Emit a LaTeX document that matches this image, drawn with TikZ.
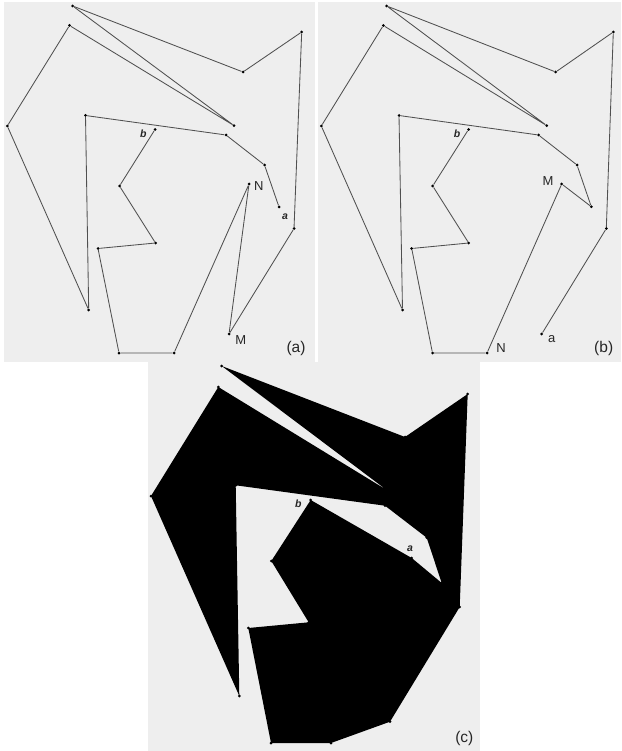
\documentclass[tikz,border=0pt]{standalone}
\usepackage{fontspec}
\setmainfont{Liberation Sans}
\definecolor{panelbg}{HTML}{EEEEEE}
\definecolor{edgecol}{HTML}{505050}
\tikzset{
  vtx/.style={circle, fill=black, inner sep=0pt, minimum size=3pt},
  edge/.style={draw=edgecol, line width=0.85pt},
  panel/.style={fill=panelbg},
  ptlabel/.style={inner sep=0pt, font=\fontsize{13}{15}\selectfont, text=black!85},
  endlabel/.style={inner sep=0pt, font=\fontsize{10.5}{12}\selectfont\bfseries\itshape, text=black!85},
  caption/.style={inner sep=0pt, font=\fontsize{15.5}{17}\selectfont, text=black!85}
}

\begin{document}
\begin{tikzpicture}[x=1pt, y=-1pt]
  \useasboundingbox (0,0) rectangle (621,751);

  % grey panels
  \fill[panel] (4,2) rectangle (314.5,361.5);
  \fill[panel] (318,2) rectangle (621,361.5);
  \fill[panel] (148,361.5) rectangle (480,751);

  % panel (a), vertices
  \foreach \n/\x/\y in {A1/72.7/6, A2/243/72, A3/301.7/32, A4/294/228.5, A5/229/334,
      A6/249/184, A7/174/353, A8/119/353, A9/98/248.5, A10/155.5/243, A11/119.5/186,
      A12/155/129.5, A13/279/207, A14/264.5/165, A15/226/135, A16/85.5/115.5,
      A17/88.7/310, A18/7.3/126, A19/69.5/25.5, A20/234/125.6} {
    \node[vtx] (\n) at (\x,\y) {};
  }
  \draw[edge] (A1) -- (A2) -- (A3) -- (A4) -- (A5) -- (A6) -- (A7) -- (A8) -- (A9)
    -- (A10) -- (A11) -- (A12);
  \draw[edge] (A13) -- (A14) -- (A15) -- (A16) -- (A17) -- (A18) -- (A19) -- (A20) -- (A1);
  \node[ptlabel] (NA) at (258.7,186) {N};
  \node[ptlabel] (MA) at (240.7,340) {M};
  \node[endlabel] (aA) at (285,217) {a};
  \node[endlabel] (bA) at (143.3,133.3) {b};
  \node[caption] (capA) at (296,348.5) {(a)};

  % panel (b), vertices
  \foreach \n/\x/\y in {B1/386.7/6, B2/555.7/72, B3/613.3/32, B4/606.3/228.5, B5/541.7/334,
      B6/561.7/184, B7/487/353, B8/432.5/353, B9/411.7/248.5, B10/468.7/243, B11/432.7/186,
      B12/468.5/129.5, B13/591.3/206.7, B14/577/165, B15/538.5/135, B16/399/115.5,
      B17/402.5/310, B18/321.3/126, B19/383.3/25.5, B20/546.7/125.6} {
    \node[vtx] (\n) at (\x,\y) {};
  }
  \draw[edge] (B5) -- (B4) -- (B3) -- (B2) -- (B1) -- (B20) -- (B19) -- (B18) -- (B17)
    -- (B16) -- (B15) -- (B14) -- (B13) -- (B6) -- (B7) -- (B8) -- (B9) -- (B10) -- (B11) -- (B12);
  \node[ptlabel] (MB) at (548,181) {M};
  \node[ptlabel] (NB) at (501,347.7) {N};
  \node[ptlabel] (aB) at (551.7,339) {a};
  \node[endlabel] (bB) at (457,133.3) {b};
  \node[caption] (capB) at (603.7,348.5) {(b)};

  % panel (c), the filled polygon
  \foreach \n/\x/\y in {C1/221.7/366, C2/405/437, C3/467.7/394, C4/459.7/607, C5/390/721.7,
      C6/331/743, C7/271/743, C8/248.3/628, C9/308.7/622.3, C10/271.3/561, C11/310.7/500,
      C12/411.7/558, C13/441.7/583, C14/426.7/537.7, C15/385/505.7, C16/235.7/485.3,
      C17/239.3/696, C18/151/496, C19/218.3/387, C20/386.7/490} {
    \node[vtx] (\n) at (\x,\y) {};
  }
  \fill[black] (C1.center) -- (C2.center) -- (C3.center)
    -- (C4.center) -- (C5.center) -- (C6.center) -- (C7.center) -- (C8.center) -- (C9.center)
    -- (C10.center) -- (C11.center) -- (C12.center) -- (C13.center) -- (C14.center)
    -- (C15.center) -- (C16.center) -- (C17.center) -- (C18.center) -- (C19.center)
    -- (C20.center) -- cycle;
  \node[endlabel] (aC) at (410,548.7) {a};
  \node[endlabel] (bC) at (298.3,504) {b};
  \node[caption] (capC) at (464.3,738) {(c)};
\end{tikzpicture}
\end{document}
